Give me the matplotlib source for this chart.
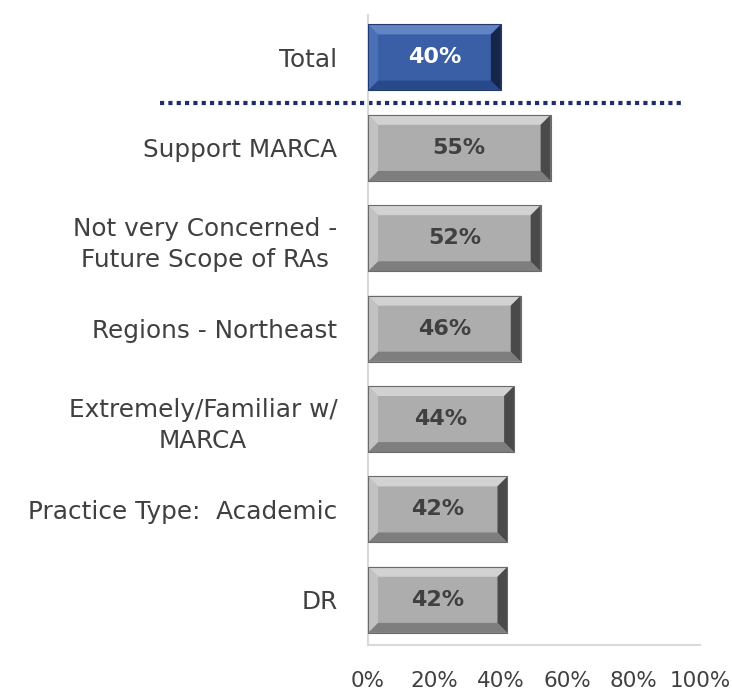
import matplotlib
matplotlib.use("Agg")
import matplotlib.pyplot as plt
from matplotlib.patches import Polygon
from matplotlib.ticker import FuncFormatter

categories = ["Total", "Support MARCA", "Not very Concerned -\nFuture Scope of RAs",
              "Regions - Northeast", "Extremely/Familiar w/\nMARCA",
              "Practice Type:  Academic", "DR"]
values = [40, 55, 52, 46, 44, 42, 42]
xticks = [0, 20, 40, 60, 80, 100]

plt.rcParams['font.family'] = ['DejaVu Sans']

fig = plt.figure(figsize=(7.32, 6.93), dpi=100)
ax = fig.add_axes([368/732, 1-645/693, (700-368)/732, (645-15)/693])

pos = list(range(len(categories)))
gray = dict(face="#ADADAD", top="#D2D2D2", left="#C2C2C2", bottom="#7E7E7E", right="#4A4A4A", edge="#6A6A6A", text="#404040")
blue = dict(face="#3A5FA6", top="#6283C4", left="#4A70B6", bottom="#284A8A", right="#15264A", edge="#203A70", text="white")

bars = ax.barh(pos, values, height=0.73, color=[blue["face"]] + [gray["face"]]*6, zorder=2)
bx, by = 3.0, 0.11
for i, (b, v) in enumerate(zip(bars, values)):
    sch = blue if i == 0 else gray
    x0, y0, w, h = b.get_x(), b.get_y(), b.get_width(), b.get_height()
    x1, y1 = x0 + w, y0 + h
    polys = [
        ([(x0, y0), (x1, y0), (x1 - bx, y0 + by), (x0 + bx, y0 + by)], sch["top"]),
        ([(x0, y1), (x1, y1), (x1 - bx, y1 - by), (x0 + bx, y1 - by)], sch["bottom"]),
        ([(x0, y0), (x0 + bx, y0 + by), (x0 + bx, y1 - by), (x0, y1)], sch["left"]),
        ([(x1, y0), (x1 - bx, y0 + by), (x1 - bx, y1 - by), (x1, y1)], sch["right"]),
    ]
    for pts, c in polys:
        ax.add_patch(Polygon(pts, closed=True, facecolor=c, edgecolor="none", zorder=3))
    ax.add_patch(plt.Rectangle((x0, y0), w, h, fill=False, edgecolor=sch["edge"], lw=0.8, zorder=4))
    ax.text(x0 + w / 2, b.get_y() + h / 2, f"{v}%", ha="center", va="center",
            fontsize=16, fontweight="bold", color=sch["text"], zorder=5)

ax.set_xlim(0, 100)
ax.set_ylim(6.5, -0.47)
ax.set_yticks(pos)
ax.set_yticklabels(categories, fontsize=17.8, color="#404040", linespacing=1.4,
                   multialignment="center")
ax.set_xticks(xticks)
ax.xaxis.set_major_formatter(FuncFormatter(lambda v, p: f"{int(v)}%"))
ax.tick_params(axis="x", length=0, pad=19, labelsize=15.5, labelcolor="#404040")
ax.tick_params(axis="y", length=0, pad=22)
for s in ["top", "right"]:
    ax.spines[s].set_visible(False)
for s in ["left", "bottom"]:
    ax.spines[s].set_color("#D9D9D9")
    ax.spines[s].set_linewidth(1.5)

ax.plot([-62.7, 94.6], [0.5, 0.5], color="#1F2E6B", lw=3, linestyle=(0, (1, 1)), clip_on=False, zorder=1)

fig.savefig("out.png", dpi=100)
